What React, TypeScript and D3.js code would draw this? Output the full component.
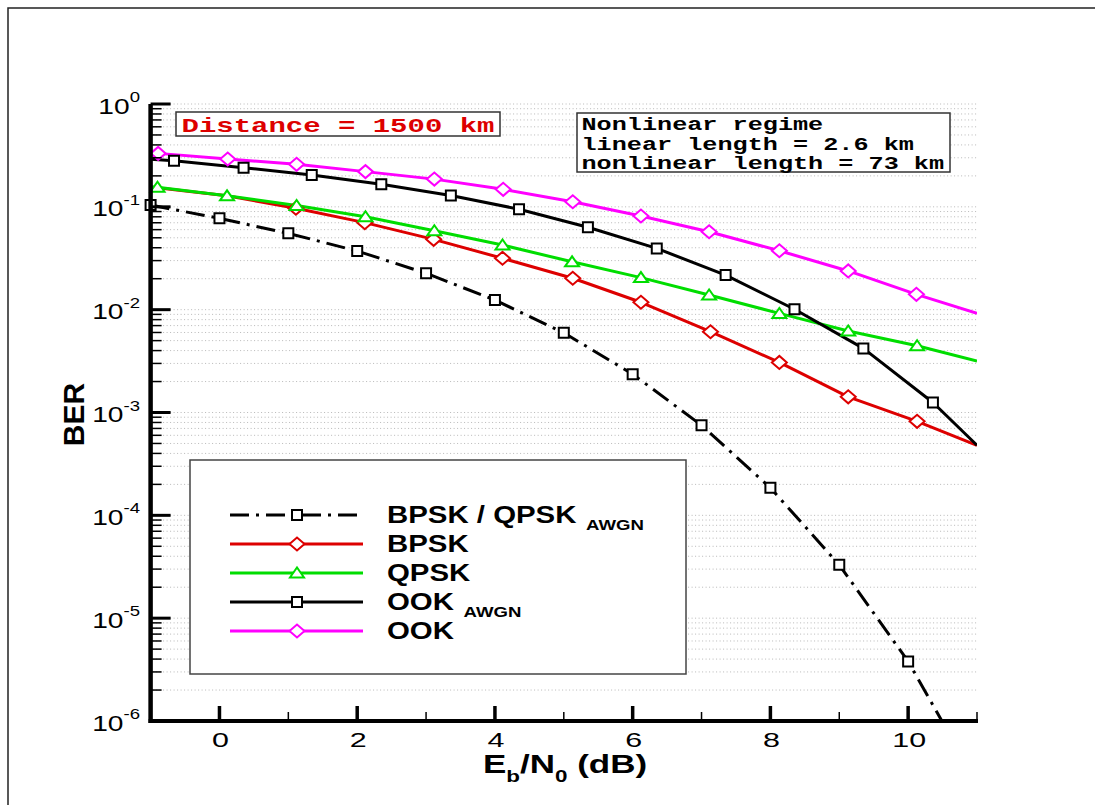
import React from 'react';
import * as d3 from 'd3';

// ---------- data ----------
const awgnX = [-1, 0, 1, 2, 3, 4, 5, 6, 7, 8, 9, 10, 11];
const awgnY = [0.104, 0.0773, 0.0552, 0.0372, 0.0226, 0.0124, 0.00596, 0.00236, 7.5e-4, 1.85e-4, 3.3e-5, 3.8e-6, 2.5e-7];
const awgnMark = [1, 1, 1, 1, 1, 1, 1, 1, 1, 1, 1, 1, 0];

const bpskX = [-1, 0.11, 1.11, 2.11, 3.11, 4.11, 5.13, 6.12, 7.13, 8.13, 9.13, 10.13, 11];
const bpskY = [0.156, 0.128, 0.0969, 0.0702, 0.0483, 0.0316, 0.0202, 0.0118, 0.0061, 0.00307, 0.00142, 8.2e-4, 4.8e-4];
const bpskMark = [0, 0, 1, 1, 1, 1, 1, 1, 1, 1, 1, 1, 0];

const qpskX = [-1, -0.9, 0.11, 1.12, 2.12, 3.12, 4.11, 5.12, 6.12, 7.11, 8.13, 9.13, 10.13, 11];
const qpskY = [0.156, 0.155, 0.128, 0.103, 0.0802, 0.0586, 0.0425, 0.0292, 0.0205, 0.0139, 0.0092, 0.0062, 0.00446, 0.00316];
const qpskMark = [0, 1, 1, 1, 1, 1, 1, 1, 1, 1, 1, 1, 1, 0];

const ookAwgnX = [-1, -0.66, 0.35, 1.34, 2.35, 3.36, 4.35, 5.35, 6.35, 7.35, 8.35, 9.35, 10.36, 11];
const ookAwgnY = [0.29, 0.281, 0.24, 0.204, 0.166, 0.129, 0.0948, 0.0633, 0.0394, 0.0217, 0.0101, 0.0042, 0.00125, 4.8e-4];
const ookAwgnMark = [0, 1, 1, 1, 1, 1, 1, 1, 1, 1, 1, 1, 1, 0];

const ookX = [-1, -0.89, 0.12, 1.12, 2.12, 3.12, 4.12, 5.13, 6.12, 7.11, 8.13, 9.13, 10.12, 11];
const ookY = [0.335, 0.331, 0.292, 0.259, 0.22, 0.186, 0.148, 0.112, 0.0814, 0.0573, 0.0374, 0.0238, 0.0141, 0.0092];
const ookMark = [0, 1, 1, 1, 1, 1, 1, 1, 1, 1, 1, 1, 1, 0];

const legendLabels = ['BPSK / QPSK', 'BPSK', 'QPSK', 'OOK', 'OOK'];
const legendSubs = ['AWGN', '', '', 'AWGN', ''];

const xMajorTicks = [0, 2, 4, 6, 8, 10];
const xMinorTicks = [1, 3, 5, 7, 9, 11];
const yDecades = [0, -1, -2, -3, -4, -5, -6];

const distanceText = 'Distance = 1500 km';
const regimeLines = ['Nonlinear regime', 'linear length = 2.6 km', 'nonlinear length = 73 km'];

// ---------- styling ----------
type Shape = 'square' | 'diamond' | 'triangle';
const seriesList = [
  { xs: awgnX, ys: awgnY, mk: awgnMark, color: '#000000', dash: '19,7,3,7', shape: 'square' as Shape },
  { xs: bpskX, ys: bpskY, mk: bpskMark, color: '#dd0000', dash: '', shape: 'diamond' as Shape },
  { xs: qpskX, ys: qpskY, mk: qpskMark, color: '#00dd00', dash: '', shape: 'triangle' as Shape },
  { xs: ookAwgnX, ys: ookAwgnY, mk: ookAwgnMark, color: '#000000', dash: '', shape: 'square' as Shape },
  { xs: ookX, ys: ookY, mk: ookMark, color: '#ff00ff', dash: '', shape: 'diamond' as Shape },
];

const markerPath: Record<Shape, string> = {
  square: 'M-5,-5H5V5H-5Z',
  diamond: 'M-7.5,0L0,-6.5L7.5,0L0,6.5Z',
  triangle: 'M-7,4.5L7,4.5L0,-5.5Z',
};

const SANS = '"Liberation Sans", Arial, Helvetica, sans-serif';
const MONO = '"Liberation Mono", "Courier New", monospace';

function SText(props: any) {
  const { x, y, sx = 1, anchor = 'start', size, weight = 'normal', family = SANS, fill = '#000', children } = props;
  return (
    <g transform={`translate(${x},${y}) scale(${sx},1)`}>
      <text x={0} y={0} textAnchor={anchor} fontSize={size} fontWeight={weight} fontFamily={family} fill={fill}>
        {children}
      </text>
    </g>
  );
}

export default function App() {
  const W = 1095, H = 805;
  const L = 150.6, R = 977, T = 104, B = 721;
  const x = d3.scaleLinear().domain([-1, 11]).range([L, R]);
  const y = d3.scaleLog().domain([1, 1e-6]).range([T, B]);

  const gridVals: number[] = [1];
  for (let e = -6; e <= -1; e++) for (let m = 1; m <= 9; m++) gridVals.push(m * Math.pow(10, e));
  const minorVals = gridVals.filter((v) => Math.abs(Math.log10(v) - Math.round(Math.log10(v))) > 1e-9);

  const line = d3.line<[number, number]>().x((d) => x(d[0])).y((d) => y(d[1]));

  const legendY = d3.scalePoint<number>().domain(d3.range(5)).range([515, 631]);

  return (
    <svg width={W} height={H} style={{ position: 'absolute', left: 0, top: 0, background: '#fff' }}>
      <defs>
        <clipPath id="plotclip">
          <rect x={L} y={T} width={R - L} height={B - T} />
        </clipPath>
      </defs>
      <rect x={0} y={0} width={W} height={H} fill="#fff" />
      {/* outer frame */}
      <rect x={8} y={8} width={2000} height={2000} fill="none" stroke="#222" strokeWidth={1.5} />

      {/* grid */}
      {gridVals.filter((v) => v > 1.5e-6).map((v, i) => (
        <line key={'g' + i} x1={L + 2} x2={R} y1={y(v)} y2={y(v)} stroke="#b8b8b8" strokeWidth={1} strokeDasharray="1,2.5" />
      ))}

      {/* series */}
      <g clipPath="url(#plotclip)">
        {seriesList.map((s, i) => (
          <path
            key={'s' + i}
            d={line(s.xs.map((v, j) => [v, s.ys[j]] as [number, number])) || ''}
            fill="none"
            stroke={s.color}
            strokeWidth={3}
            strokeDasharray={s.dash || undefined}
            strokeLinejoin="round"
          />
        ))}
      </g>
      {seriesList.map((s, i) => (
        <g key={'m' + i}>
          {s.xs.map((v, j) =>
            s.mk[j] && s.ys[j] >= 1e-6 ? (
              <path key={j} d={markerPath[s.shape]} transform={`translate(${x(v)},${y(s.ys[j])})`} fill="#fff" stroke={s.color} strokeWidth={2} />
            ) : null
          )}
        </g>
      ))}

      {/* axes */}
      <line x1={L} x2={L} y1={T} y2={B + 2} stroke="#000" strokeWidth={4.5} />
      <line x1={L - 2} x2={R + 1} y1={B} y2={B} stroke="#000" strokeWidth={4} />
      {yDecades.map((e) => (
        <line key={'yM' + e} x1={L} x2={L + 20} y1={y(Math.pow(10, e))} y2={y(Math.pow(10, e))} stroke="#000" strokeWidth={3} />
      ))}
      {minorVals.map((v, i) => (
        <line key={'ym' + i} x1={L} x2={L + 11} y1={y(v)} y2={y(v)} stroke="#000" strokeWidth={1.5} />
      ))}
      {xMajorTicks.map((t) => (
        <line key={'xM' + t} x1={x(t)} x2={x(t)} y1={B} y2={B - 15} stroke="#000" strokeWidth={3.5} />
      ))}
      {xMinorTicks.map((t) => (
        <line key={'xm' + t} x1={x(t)} x2={x(t)} y1={B} y2={B - 9} stroke="#000" strokeWidth={1.5} />
      ))}

      {/* tick labels */}
      {xMajorTicks.map((t) => (
        <SText key={'xl' + t} x={x(t) + 1} y={747} sx={1.45} anchor="middle" size={21}>
          {t}
        </SText>
      ))}
      {yDecades.map((e) => (
        <SText key={'yl' + e} x={140} y={y(Math.pow(10, e)) + 9.5} sx={1.28} anchor="end" size={22}>
          10
          <tspan dy={-11.5} fontSize={14.5}>
            {e === 0 ? '0' : '-' + Math.abs(e)}
          </tspan>
        </SText>
      ))}

      {/* axis titles */}
      <SText x={483} y={773} sx={1.4} size={25} weight="bold">
        E<tspan dy={9} fontSize={16}>b</tspan>
        <tspan dy={-9}>/N</tspan>
        <tspan dy={9} fontSize={16}>0</tspan>
        <tspan dy={-9}> (dB)</tspan>
      </SText>
      <g transform={`translate(84,414.5) rotate(-90)`}>
        <text x={0} y={0} textAnchor="middle" fontSize={30} fontWeight="bold" fontFamily={SANS}>
          BER
        </text>
      </g>

      {/* distance box */}
      <rect x={176} y={112} width={324} height={24} fill="#fff" stroke="#333" strokeWidth={1.5} />
      <SText x={181.5} y={131.5} sx={1.38} size={21} weight="bold" family={MONO} fill="#dd0000">
        {distanceText}
      </SText>

      {/* regime box */}
      <rect x={577} y={113} width={373} height={59} fill="#fff" stroke="#333" strokeWidth={1.5} />
      {regimeLines.map((s, i) => (
        <SText key={'r' + i} x={581.5} y={130 + i * 19.5} sx={1.4} size={18} weight="bold" family={MONO}>
          {s}
        </SText>
      ))}

      {/* legend */}
      <rect x={190} y={460} width={496} height={214} fill="#fff" stroke="#444" strokeWidth={1.5} />
      {seriesList.map((s, i) => {
        const ly = legendY(i) as number;
        return (
          <g key={'lg' + i}>
            <line x1={230} x2={363} y1={ly} y2={ly} stroke={s.color} strokeWidth={3} strokeDasharray={s.dash || undefined} />
            <path d={markerPath[s.shape]} transform={`translate(297,${ly})`} fill="#fff" stroke={s.color} strokeWidth={2} />
            <SText x={387} y={ly + 7.7} sx={1.2} size={24.5} weight="bold">
              {legendLabels[i]}
              {legendSubs[i] ? (
                <tspan dx={8} dy={7} fontSize={15.5}>
                  {legendSubs[i]}
                </tspan>
              ) : null}
            </SText>
          </g>
        );
      })}
    </svg>
  );
}
